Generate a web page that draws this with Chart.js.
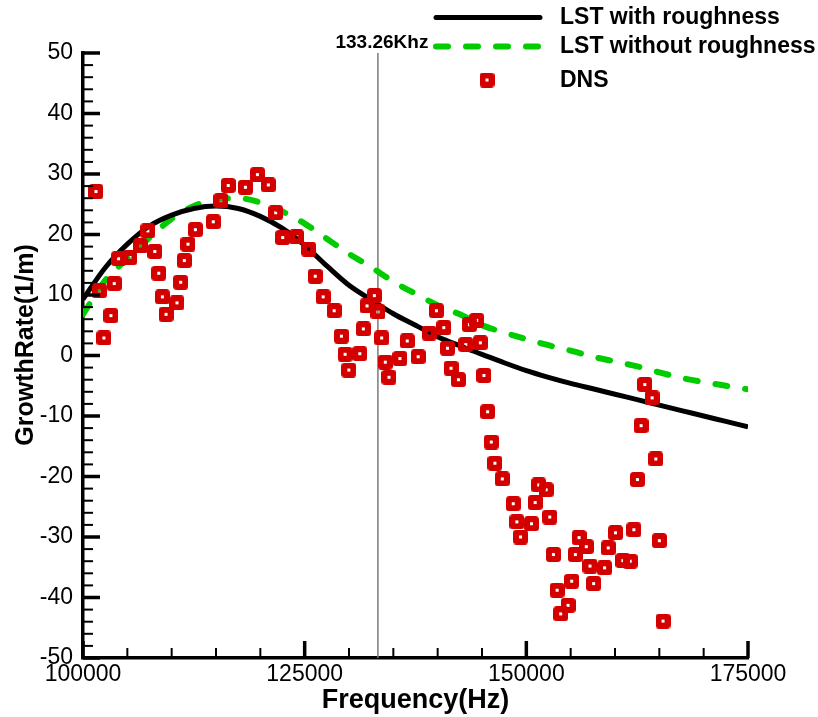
<!DOCTYPE html>
<html>
<head>
<meta charset="utf-8">
<script src="https://cdn.jsdelivr.net/npm/chart.js@4"></script>
<style>
html,body{margin:0;padding:0;background:#fff;}
#wrap{width:818px;height:717px;}
</style>
</head>
<body>
<div id="wrap"><canvas id="c" width="818" height="717"></canvas></div>
<script>
// ---- data ----
const lstFreq = [100000,102500,105000,107500,110000,112500,115000,117500,120000,122500,125000,127500,130000,132500,135000,137500,140000,142500,145000,147500,150000,152500,155000,157500,160000,162500,165000,167500,170000,172500,175000];
const lstWithRough = [9.3,14.5,18.4,21.4,23.2,24.3,24.7,24.3,23.0,21.0,18.2,14.8,11.6,9.2,6.9,5.0,3.1,1.6,0.2,-1.2,-2.5,-3.6,-4.6,-5.5,-6.4,-7.3,-8.2,-9.1,-10.0,-10.9,-11.8];
const lstWithoutRough = [6.8,12.4,16.0,19.5,22.6,24.7,25.8,26.0,25.3,23.8,21.8,19.3,16.8,14.6,12.2,10.2,8.3,6.8,5.0,3.8,2.7,1.7,0.8,-0.2,-1.0,-1.8,-2.8,-3.7,-4.4,-5.0,-5.6];
const dnsFreq = [101461,101834,102360,103147,103520,104010,105283,106483,107306,108093,108543,108956,109363,110600,111015,111431,111836,112667,114690,115545,116377,118320,119670,120906,121730,122520,124090,125437,126190,127088,128325,129146,129561,129977,131213,131620,132034,132855,133270,133686,134091,134507,135743,136564,137800,139037,139868,140689,141104,141509,142340,143162,143577,144398,144813,145218,145634,146050,146455,147287,148523,148928,149344,150580,150995,151400,152232,152637,153053,153469,153874,154705,155110,155526,155942,156762,157178,157583,158820,159235,160056,160888,161708,162124,162529,162944,163360,164180,164596,165001,165417];
const dnsRate = [27.1,10.7,2.9,6.6,11.9,16.0,16.2,18.1,20.6,17.2,13.6,9.7,6.8,8.7,12.1,15.7,18.4,20.8,22.1,25.6,28.1,27.8,29.9,28.2,23.6,19.5,19.6,17.6,13.1,9.7,7.4,3.2,0.2,-2.4,0.3,4.4,8.2,9.9,7.2,2.9,-1.1,-3.6,-0.5,2.4,-0.2,3.7,7.4,4.6,1.2,-2.1,-4.0,1.8,5.1,5.8,2.1,-3.3,-9.3,-14.3,-17.8,-20.4,-24.5,-27.5,-30.0,-27.8,-24.3,-21.4,-22.2,-26.7,-32.9,-38.8,-42.7,-41.3,-37.3,-32.9,-30.1,-31.6,-34.8,-37.7,-35.1,-31.8,-29.3,-33.9,-34.0,-28.8,-20.5,-11.6,-4.8,-7.0,-17.1,-30.6,-43.9];
const seriesLabels = ['LST with roughness','LST without roughness','DNS'];
const xTicks = [100000,125000,150000,175000];
const yTicks = [-50,-40,-30,-20,-10,0,10,20,30,40,50];
const markerFreq = 133260;
const markerLabel = '133.26Khz';
const xTitle = 'Frequency(Hz)';
const yTitle = 'GrowthRate(1/m)';

const FONT = "'Liberation Sans', Arial, sans-serif";
const RED = '#d40000';
const GREEN = '#00cc00';

const pts = (xs, ys) => xs.map((x,i)=>({x:x, y:ys[i]}));

// DNS marker glyph: red rounded square ring with a small transparent hole
const dnsGlyph = (function(){
  const c = document.createElement('canvas');
  c.width = 15; c.height = 15;
  const g = c.getContext('2d');
  g.fillStyle = RED;
  g.beginPath();
  if (g.roundRect) g.roundRect(0, 0, 15, 15, 3.5); else g.rect(0,0,15,15);
  g.fill();
  g.clearRect(6, 6, 3, 3);
  return c;
})();

const marker = {
  id:'marker',
  beforeDatasetsDraw(chart){
    const {ctx, chartArea:a, scales:{x}} = chart;
    const px = x.getPixelForValue(markerFreq);
    ctx.save();
    ctx.strokeStyle = '#7a7a7a';
    ctx.lineWidth = 1.5;
    ctx.beginPath(); ctx.moveTo(px, a.top); ctx.lineTo(px, a.bottom); ctx.stroke();
    ctx.fillStyle = '#000';
    ctx.font = "bold 19px " + FONT;
    ctx.textAlign = 'center'; ctx.textBaseline = 'alphabetic';
    ctx.fillText(markerLabel, px + 4, 47.5);
    ctx.restore();
  }
};

const axesDeco = {
  id:'axesDeco',
  afterDraw(chart){
    const {ctx, chartArea:a, scales:{x,y}} = chart;
    ctx.save();
    ctx.strokeStyle = '#000';
    for (let v = 100000; v <= 175000; v += 5000){
      const px = x.getPixelForValue(v);
      const major = xTicks.includes(v);
      ctx.lineWidth = major ? 3.5 : 2;
      ctx.beginPath(); ctx.moveTo(px, a.bottom); ctx.lineTo(px, a.bottom - (major ? 17 : 10)); ctx.stroke();
    }
    for (let v = -50; v <= 50; v += 2){
      const py = y.getPixelForValue(v);
      const major = yTicks.includes(v);
      ctx.lineWidth = major ? 3.5 : 2;
      ctx.beginPath(); ctx.moveTo(a.left, py); ctx.lineTo(a.left + (major ? 17 : 10), py); ctx.stroke();
    }
    // axis titles
    ctx.fillStyle = '#000';
    ctx.font = "bold 27px " + FONT;
    ctx.textAlign = 'center'; ctx.textBaseline = 'alphabetic';
    ctx.fillText(xTitle, (a.left + a.right)/2, 708);
    ctx.save();
    ctx.translate(33, 345);
    ctx.rotate(-Math.PI/2);
    ctx.font = "bold 25px " + FONT;
    ctx.fillText(yTitle, 0, 0);
    ctx.restore();
    // legend
    const lx0 = 433, lx1 = 543, tx = 560;
    ctx.lineCap = 'round';
    ctx.strokeStyle = '#000'; ctx.lineWidth = 5;
    ctx.beginPath(); ctx.moveTo(lx0+3, 17.5); ctx.lineTo(lx1-3, 17.5); ctx.stroke();
    ctx.strokeStyle = GREEN; ctx.lineWidth = 6; ctx.setLineDash([12, 18]);
    ctx.beginPath(); ctx.moveTo(lx0+3, 46.5); ctx.lineTo(lx1, 46.5); ctx.stroke();
    ctx.setLineDash([]);
    ctx.drawImage(dnsGlyph, 487 - 7.5, 80 - 7.5);
    ctx.fillStyle = '#000';
    ctx.font = "bold 23px " + FONT;
    ctx.textAlign = 'left'; ctx.textBaseline = 'middle';
    ctx.fillText(seriesLabels[0], tx, 18);
    ctx.fillText(seriesLabels[1], tx, 47);
    ctx.fillText(seriesLabels[2], tx, 81);
    ctx.restore();
  }
};

new Chart(document.getElementById('c'), {
  type:'scatter',
  data:{
    datasets:[
      {label:seriesLabels[2], data:pts(dnsFreq, dnsRate), showLine:false, order:0,
       pointStyle:dnsGlyph, pointRadius:7.5},
      {label:seriesLabels[0], data:pts(lstFreq, lstWithRough), showLine:true, order:1,
       borderColor:'#000', borderWidth:5, pointRadius:0, cubicInterpolationMode:'monotone', fill:false},
      {label:seriesLabels[1], data:pts(lstFreq, lstWithoutRough), showLine:true, order:2,
       borderColor:GREEN, borderWidth:6, borderDash:[12,18], borderCapStyle:'round', pointRadius:0, cubicInterpolationMode:'monotone', fill:false}
    ]
  },
  options:{
    responsive:false, animation:false,
    layout:{padding:{top:53, right:70, left:0, bottom:0}},
    plugins:{legend:{display:false}, tooltip:{enabled:false}},
    scales:{
      x:{type:'linear', min:100000, max:175000,
         afterBuildTicks(s){ s.ticks = xTicks.map(v=>({value:v})); },
         afterFit(s){ s.height = 59; },
         ticks:{callback:v=>String(v), color:'#000', font:{size:23, family:FONT}, maxRotation:0, padding:3},
         grid:{display:false, drawTicks:false},
         border:{display:true, color:'#000', width:3.5}},
      y:{type:'linear', min:-50, max:50,
         afterBuildTicks(s){ s.ticks = yTicks.map(v=>({value:v})); },
         afterFit(s){ s.width = 83; },
         ticks:{color:'#000', font:{size:23, family:FONT}, padding:10},
         grid:{display:false, drawTicks:false},
         border:{display:true, color:'#000', width:3.5}}
    }
  },
  plugins:[marker, axesDeco]
});
</script>
</body>
</html>
